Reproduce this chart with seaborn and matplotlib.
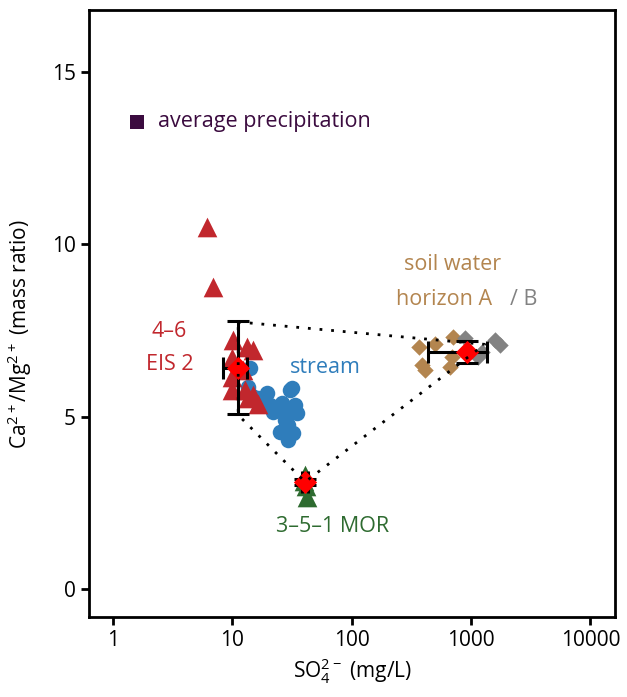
import numpy as np
import pandas as pd
import seaborn as sns
import matplotlib.pyplot as plt

# values (SO4 in mg/L, Ca/Mg mass ratio)
precip_so4 = [1.59]
precip_ratio = [13.56]

eis_so4 = [6.14, 6.89, 10.1, 13.3, 14.9, 9.95, 12.3, 9.95, 9.95, 12.8, 14.9, 13.5, 16.4]
eis_ratio = [10.51, 8.77, 7.23, 7.03, 6.94, 6.71, 6.36, 6.16, 5.78, 5.78, 5.63, 5.55, 5.37]

stream_so4 = [14.1, 13.5, 14.6, 16.4, 19.5, 20.7, 23.7, 26.1, 28.7, 30.5,
              31.6, 33.5, 34.8, 27.7, 29.3, 26.1, 32.3, 29.3, 25.1, 21.9]
stream_ratio = [6.42, 5.87, 5.61, 5.55, 5.69, 5.34, 5.29, 5.40, 5.11, 5.78,
                5.84, 5.34, 5.11, 4.91, 4.76, 4.56, 4.53, 4.33, 4.56, 5.14]

mor_so4 = [40.7, 42.3, 39.5, 41.5]
mor_ratio = [3.31, 2.67, 3.15, 3.0]

soil_a_so4 = [367, 500, 708, 389, 412, 695, 668]
soil_a_ratio = [7.03, 7.12, 7.32, 6.51, 6.36, 6.74, 6.45]
soil_b_so4 = [893, 1238, 1592, 1754, 1146]
soil_b_ratio = [7.29, 6.88, 7.23, 7.09, 6.74]

# group means and spread (EIS 2, MOR, soil water)
mean_so4 = [11.2, 40.7, 927]
mean_ratio = [6.42, 3.11, 6.88]
so4_err_lo = [2.8, 2.0, 490]
so4_err_hi = [2.1, 2.0, 438]
ratio_err = [1.35, 0.08, 0.32]

# mixing triangle between end-members
mix_so4 = [11.2, 1300, 40.7, 11.2, 11.2]
mix_ratio = [7.75, 7.1, 3.11, 5.05, 7.75]

c_red = '#c1272d'
c_blue = '#2f7dbb'
c_tan = '#b3854f'
c_grey = '#828282'
c_green = '#2e6b30'
c_purple = '#3b0b3f'


def main():
    sns.set_theme(style='ticks')
    plt.rcParams['font.family'] = ['Open Sans', 'DejaVu Sans']
    plt.rcParams['mathtext.fontset'] = 'custom'
    plt.rcParams['mathtext.rm'] = 'Open Sans'

    fig, ax = plt.subplots(figsize=(6.27, 6.97), dpi=100)
    fig.subplots_adjust(left=0.142, right=0.981, bottom=0.115, top=0.986)

    sns.scatterplot(x=stream_so4, y=stream_ratio, ax=ax, color=c_blue, marker='o',
                    s=125, linewidth=0, zorder=2)
    sns.scatterplot(x=eis_so4, y=eis_ratio, ax=ax, color=c_red, marker='^',
                    s=200, linewidth=0, zorder=3)
    sns.scatterplot(x=mor_so4, y=mor_ratio, ax=ax, color=c_green, marker='^',
                    s=200, linewidth=0, zorder=3)
    sns.scatterplot(x=soil_a_so4, y=soil_a_ratio, ax=ax, color=c_tan, marker='D',
                    s=70, linewidth=0, zorder=3)
    sns.scatterplot(x=soil_b_so4, y=soil_b_ratio, ax=ax, color=c_grey, marker='D',
                    s=70, linewidth=0, zorder=3)
    sns.scatterplot(x=precip_so4, y=precip_ratio, ax=ax, color=c_purple, marker='s',
                    s=90, linewidth=0, zorder=3)

    ax.errorbar(mean_so4, mean_ratio, xerr=[so4_err_lo, so4_err_hi], yerr=ratio_err,
                fmt='none', ecolor='black', elinewidth=2.2, capsize=8, capthick=2.2, zorder=4)
    sns.scatterplot(x=mean_so4, y=mean_ratio, ax=ax, color='#ff0000', marker='D',
                    s=140, linewidth=0, zorder=5)

    ax.plot(mix_so4, mix_ratio, color='black', linewidth=2, linestyle=(0, (1, 3.2)), zorder=6)

    fs = 15.5
    ax.text(2.38, 13.56, 'average precipitation', color=c_purple, fontsize=fs, ha='left', va='center')
    ax.text(2.95, 7.46, '4\u20136', color=c_red, fontsize=fs, ha='center', va='center')
    ax.text(3.0, 6.53, 'EIS 2', color=c_red, fontsize=fs, ha='center', va='center')
    ax.text(59.8, 6.42, 'stream', color=c_blue, fontsize=fs, ha='center', va='center')
    ax.text(695, 9.41, 'soil water', color=c_tan, fontsize=fs, ha='center', va='center')
    ax.text(595, 8.39, 'horizon A', color=c_tan, fontsize=fs, ha='center', va='center')
    ax.text(2786, 8.39, '/ B', color=c_grey, fontsize=fs, ha='center', va='center')
    ax.text(69.8, 1.83, '3\u20135\u20131 MOR', color=c_green, fontsize=fs, ha='center', va='center')

    ax.set_xscale('log')
    ax.set_xlim(0.63, 16100)
    ax.set_ylim(-0.8, 16.8)
    ax.set_xticks([1, 10, 100, 1000, 10000])
    ax.set_xticklabels(['1', '10', '100', '1000', '10000'])
    ax.minorticks_off()
    ax.set_yticks([0, 5, 10, 15])

    ax.set_xlabel(r'SO$_{\mathregular{4}}^{\mathregular{2-}}$ (mg/L)', fontsize=15, color='black')
    ax.set_ylabel(r'Ca$^{\mathregular{2+}}$/Mg$^{\mathregular{2+}}$ (mass ratio)', fontsize=15, color='black')
    ax.yaxis.set_label_coords(-0.105, 0.465)

    for sp in ax.spines.values():
        sp.set_color('black')
        sp.set_linewidth(2)
    ax.tick_params(axis='both', labelsize=15, colors='black', width=2, length=6, direction='out')

    fig.savefig('out.png', dpi=100)


if __name__ == '__main__':
    main()
